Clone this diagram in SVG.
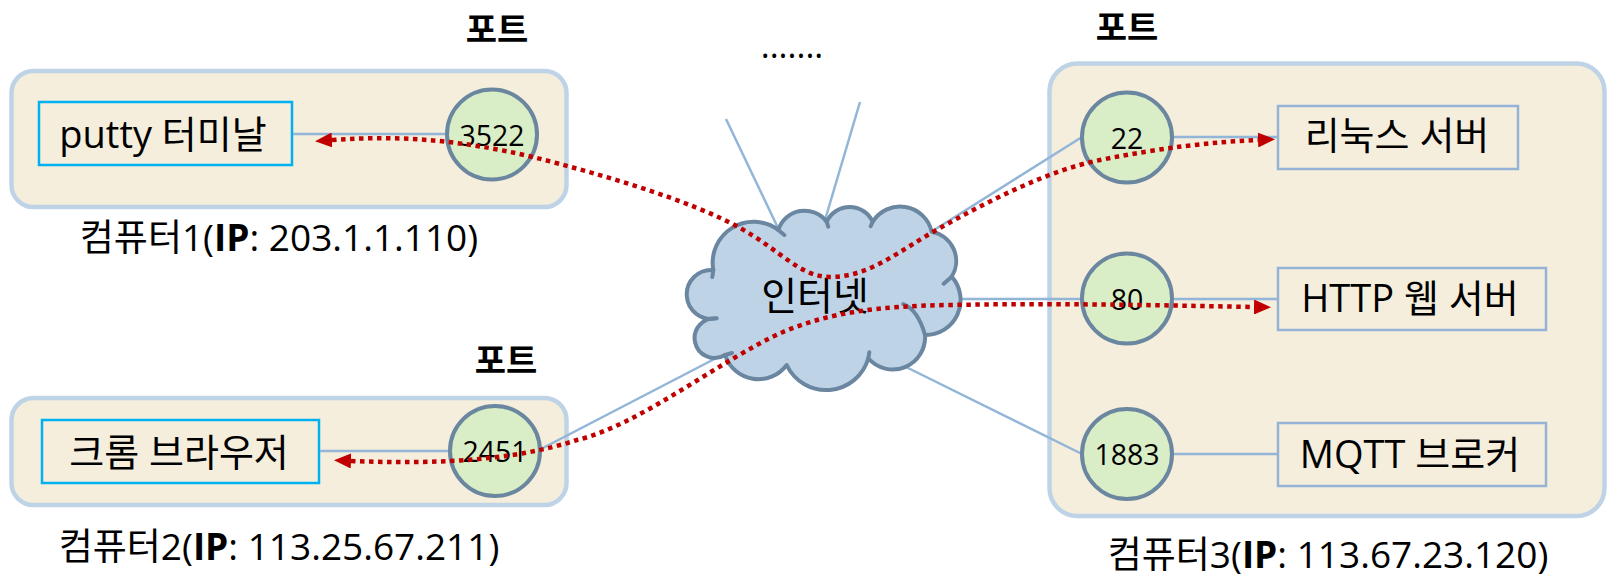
<svg xmlns="http://www.w3.org/2000/svg" width="1612" height="577" viewBox="0 0 1612 577">
<style>
.box{fill:#F5EEDD;stroke:#BFD3E6;stroke-width:4.5}
.app{fill:none;stroke:#00B0F0;stroke-width:2.5}
.svc{fill:none;stroke:#95B3D7;stroke-width:2.5}
.port{fill:#D9EDC6;stroke:#6B87A0;stroke-width:4}
.link{fill:none;stroke:#93B5D8;stroke-width:2.5}
.flow{fill:none;stroke:#C00000;stroke-width:4.5;stroke-dasharray:4.5 4.5}
.cloud{fill:#BED3E5;stroke:#6A86A0;stroke-width:4;stroke-linejoin:round}
.tail{fill:none;stroke:#6A86A0;stroke-width:4;stroke-linecap:round}
text{font-family:"Open Sans","Noto Sans CJK KR",sans-serif;fill:#000}
.lbl{font-size:38px;text-anchor:middle}
.cap{font-size:37px;text-anchor:middle}
.pn{font-size:28.5px;text-anchor:middle}
.hdr{font-family:"Noto Sans CJK KR",sans-serif;font-size:34px;font-weight:bold;text-anchor:middle}
</style>
<defs>
<marker id="arr" viewBox="0 0 17 15" refX="0" refY="7.5" markerWidth="17" markerHeight="15" markerUnits="userSpaceOnUse" orient="auto-start-reverse">
<path d="M0,0 L17,7.5 L0,15 Z" fill="#C00000"/>
</marker>
</defs>
<rect width="1612" height="577" fill="#FFFFFF"/>

<g id="computer1">
<rect class="box" x="11.5" y="71" width="555" height="136" rx="22"/>
<text class="cap" x="279" y="251">컴퓨터1(<tspan font-weight="bold">IP</tspan>: 203.1.1.110)</text>
<text class="hdr" x="497" y="42">포트</text>
</g>
<g id="computer2">
<rect class="box" x="11.5" y="398" width="555" height="107" rx="22"/>
<text class="cap" x="279" y="560">컴퓨터2(<tspan font-weight="bold">IP</tspan>: 113.25.67.211)</text>
<text class="hdr" x="506" y="373">포트</text>
</g>
<g id="computer3">
<rect class="box" x="1049.5" y="63.5" width="555" height="452.5" rx="28"/>
<text class="cap" x="1328" y="568">컴퓨터3(<tspan font-weight="bold">IP</tspan>: 113.67.23.120)</text>
<text class="hdr" x="1127" y="40">포트</text>
</g>

<g id="putty">
<rect class="app" x="39" y="102" width="253" height="63"/>
<text class="lbl" x="163" y="147.5">putty 터미날</text>
</g>
<g id="chrome">
<rect class="app" x="42" y="420" width="277" height="63"/>
<text class="lbl" x="179" y="466">크롬 브라우저</text>
</g>
<g id="linux-server">
<rect class="svc" x="1278" y="106" width="240" height="63"/>
<text class="lbl" x="1397" y="149">리눅스 서버</text>
</g>
<g id="http-server">
<rect class="svc" x="1278" y="268" width="268" height="62"/>
<text class="lbl" x="1410" y="312">HTTP 웹 서버</text>
</g>
<g id="mqtt-broker">
<rect class="svc" x="1278" y="423" width="268" height="63"/>
<text class="lbl" x="1410" y="467.5">MQTT 브로커</text>
</g>

<g id="more">
<text x="792" y="58" style="font-size:34px;text-anchor:middle">.......</text>
</g>

<g id="connectors">
<line class="link" x1="293" y1="134" x2="445" y2="134"/>
<line class="link" x1="320" y1="451" x2="449" y2="451"/>
<line class="link" x1="541" y1="449" x2="726" y2="353"/>
<line class="link" x1="726" y1="119" x2="778" y2="228"/>
<line class="link" x1="860" y1="102" x2="825" y2="220"/>
<line class="link" x1="931" y1="232" x2="1082" y2="137"/>
<line class="link" x1="960" y1="299" x2="1082" y2="299"/>
<line class="link" x1="900" y1="364" x2="1082" y2="454"/>
<line class="link" x1="1172" y1="137" x2="1278" y2="137"/>
<line class="link" x1="1172" y1="299" x2="1278" y2="299"/>
<line class="link" x1="1172" y1="454" x2="1278" y2="454"/>
</g>

<g id="port-3522">
<circle class="port" cx="492" cy="134.5" r="45"/>
<text class="pn" x="492" y="145.5">3522</text>
</g>
<g id="port-2451">
<circle class="port" cx="495" cy="451" r="45"/>
<text class="pn" x="495" y="462">2451</text>
</g>
<g id="port-22">
<circle class="port" cx="1127" cy="137.5" r="45"/>
<text class="pn" x="1127" y="148.5">22</text>
</g>
<g id="port-80">
<circle class="port" cx="1127" cy="298.5" r="45"/>
<text class="pn" x="1127" y="309.5">80</text>
</g>
<g id="port-1883">
<circle class="port" cx="1127" cy="454" r="45"/>
<text class="pn" x="1127" y="465">1883</text>
</g>

<g id="internet">
<path class="cloud" d="M713.3,270 A41,41 0 0 1 778.3,230 A27.6,27.6 0 0 1 826.7,221.7 A25.3,25.3 0 0 1 872.7,221.7 A32.4,32.4 0 0 1 931.7,231.7 A29.8,29.8 0 0 1 951.7,276.7 A35,35 0 0 1 925,335 A32.3,32.3 0 0 1 868.3,358.3 A43.7,43.7 0 0 1 786.7,365 A35.2,35.2 0 0 1 725,355 A19.9,19.9 0 1 1 716.7,318.3 A24.5,24.5 0 1 1 713.3,270 Z"/>
<path class="tail" d="M778.3,230 l6,5 M826.7,221.7 l1.5,5 M872.7,221.7 l-2,4.5 M951.7,276.7 l-8,7 M925,335 Q918,310 903.3,304 M868.3,358.3 l1,-6 M725,355 l7,-2 M713.3,270 l-1,7"/>
<text x="815" y="310" style="font-size:39px;text-anchor:middle">인터넷</text>
</g>

<g id="flows">
<path class="flow" marker-start="url(#arr)" marker-end="url(#arr)" d="M332,140 C400,135 460,140 533,157 C600,174 690,200 740,228 C780,250 800,277 830,277 C870,277 900,250 940,228 C990,200 1050,170 1100,160 C1160,148 1210,142 1258,140"/>
<path class="flow" marker-start="url(#arr)" marker-end="url(#arr)" d="M351,461 C430,464 510,462 577,440 C640,425 720,360 783,332 C830,312 880,306 950,305 C1050,303 1150,305 1254,307"/>
</g>
</svg>
